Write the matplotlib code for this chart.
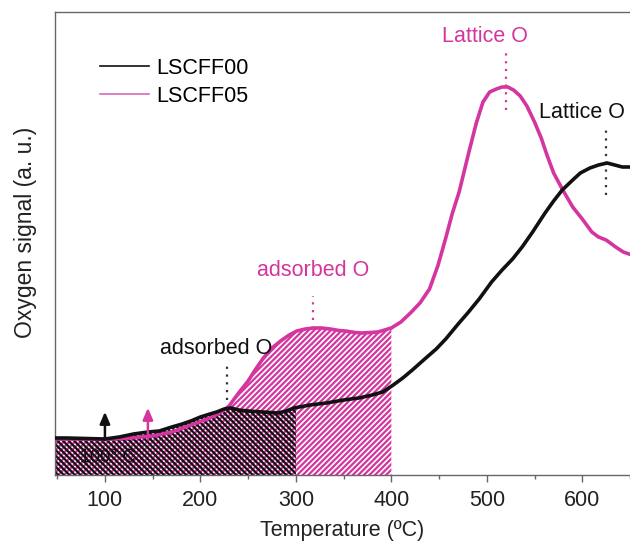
import numpy as np
import matplotlib
matplotlib.use("Agg")
import matplotlib.pyplot as plt
from matplotlib.lines import Line2D

plt.rcParams['font.family'] = ['Liberation Sans', 'DejaVu Sans']
plt.rcParams['hatch.linewidth'] = 1.6

# ---- data ----
t_00 = [48, 60, 80, 100, 115, 130, 145, 157, 170, 181, 190, 200, 210, 217, 225, 232, 240, 250,
        265, 281, 290, 298, 315, 332, 350, 366, 380, 391, 402, 412, 422, 435, 447, 457, 470,
        480, 492, 505, 516, 527, 537, 548, 561, 570, 579, 590, 598, 608, 617, 626, 634, 642, 649]
s_00 = [37, 37, 36.5, 36, 38, 41, 43, 44, 48, 51, 54, 58, 61, 63, 66, 67, 65, 64,
        63, 62, 64, 67, 70, 72, 75, 77, 80, 83, 90, 97, 105, 116, 126, 136, 151,
        162, 176, 193, 205, 216, 228, 243, 262, 274, 285, 295, 302, 307, 310, 312, 310, 308, 308]

t_05 = [48, 70, 100, 125, 150, 170, 190, 210, 222, 230, 240, 250, 258, 266, 275, 284, 293, 301,
        310, 318, 327, 336, 345, 352, 362, 369, 378, 386, 393, 400, 410, 420, 430, 440, 449, 457,
        464, 471, 481, 489, 496, 503, 510, 516, 522, 528, 535, 542, 550, 557, 563, 570, 579, 590,
        600, 610, 617, 625, 635, 643, 649]
s_05 = [36, 36, 35.5, 37, 39, 43, 50, 57, 63, 69, 82, 94, 106, 117, 127, 134, 140, 144,
        146, 147, 147, 146, 144.5, 144, 142.5, 142, 142.5, 143, 145, 147, 153, 162, 172, 186, 210, 237,
        262, 283, 322, 352, 373, 383, 386, 388, 388, 385, 379, 369, 353, 337, 320, 302, 286, 268,
        256, 243, 238, 235, 228, 223, 221]

labels = ['LSCFF00', 'LSCFF05']
shade_end = [300, 400]
peak_labels = ['adsorbed O', 'adsorbed O', 'Lattice O', 'Lattice O']
peak_T = [227.7, 317.6, 520.6, 625.3]

BLACK = '#111111'
MAG = '#D4359E'

fig = plt.figure(figsize=(6.3, 5.41), dpi=100)
ax = fig.add_axes([55/630, 66/541, 575/630, 463/541])

ax.set_xlim(47.7, 649.3)
ax.set_ylim(0, 463)

# hatched areas
grid = np.linspace(48, 649, 2000)
g05 = np.union1d(grid, [shade_end[1]])
y05 = np.interp(g05, t_05, s_05)
ax.fill_between(g05, 0, y05, where=g05 <= shade_end[1], facecolor='none',
                edgecolor=MAG, hatch='//////', linewidth=0, zorder=1)
g00 = np.union1d(grid, [shade_end[0]])
y00 = np.interp(g00, t_00, s_00)
ax.fill_between(g00, 0, y00, where=g00 <= shade_end[0], facecolor='none',
                edgecolor=BLACK, hatch='\\\\\\\\\\\\', linewidth=0, zorder=1.5)

ax.plot(t_05, s_05, color=MAG, lw=2.6, zorder=3)
ax.plot(t_00, s_00, color=BLACK, lw=2.6, zorder=4)

# dotted peak markers
dots = [(peak_T[0], 75, 110, '#333333'), (peak_T[1], 155, 179, MAG),
        (peak_T[2], 365, 425, MAG), (peak_T[3], 280, 348, '#333333')]
for x, y0, y1, c in dots:
    ax.plot([x, x], [y0, y1], color=c, lw=1.6, linestyle=(0, (1, 2.5)), zorder=2)

fs = 15.5
ax.text(216, 127, peak_labels[0], color=BLACK, fontsize=fs, ha='center', va='center')
ax.text(317.6, 205, peak_labels[1], color=MAG, fontsize=fs, ha='center', va='center')
ax.text(497.6, 439, peak_labels[2], color=MAG, fontsize=fs, ha='center', va='center')
ax.text(600, 363, peak_labels[3], color=BLACK, fontsize=fs, ha='center', va='center')

# arrows
ax.annotate('', xy=(100, 66), xytext=(100, 33),
            arrowprops=dict(arrowstyle='-|>,head_length=0.7,head_width=0.3', lw=1.8, color=BLACK),
            zorder=5)
ax.annotate('', xy=(145, 70), xytext=(145, 33),
            arrowprops=dict(arrowstyle='-|>,head_length=0.7,head_width=0.3', lw=1.8, color=MAG),
            zorder=5)
ax.text(103, 17, '100° C', color=BLACK, fontsize=13, ha='center', va='center', zorder=5)

# legend
handles = [Line2D([], [], color=BLACK, lw=1.2), Line2D([], [], color='#D66BBE', lw=1.2)]
ax.legend(handles, labels, loc='upper left', bbox_to_anchor=(0.0787, 0.901), frameon=False,
          fontsize=fs, handlelength=2.25, handletextpad=0.35, labelspacing=0.31,
          borderaxespad=0, borderpad=0)

# axes styling
for side in ['left', 'bottom', 'top']:
    ax.spines[side].set_color('#666666')
    ax.spines[side].set_linewidth(1.0)
ax.spines['right'].set_visible(False)
ax.set_yticks([])
ax.set_xticks([100, 200, 300, 400, 500, 600])
ax.set_xticks([50, 150, 250, 350, 450, 550, 650], minor=True)
ax.tick_params(axis='x', which='major', direction='out', length=5, width=1,
               color='#666666', labelsize=fs, labelcolor='#222222', pad=6)
ax.tick_params(axis='x', which='minor', direction='out', length=3, width=1, color='#666666')
ax.set_xlabel('Temperature (ºC)', fontsize=fs, color='#222222', labelpad=6)
ax.set_ylabel('Oxygen signal (a. u.)', fontsize=16.5, color='#222222')
ax.yaxis.set_label_coords(-0.031, 0.525)

fig.savefig('out.png', dpi=100)
